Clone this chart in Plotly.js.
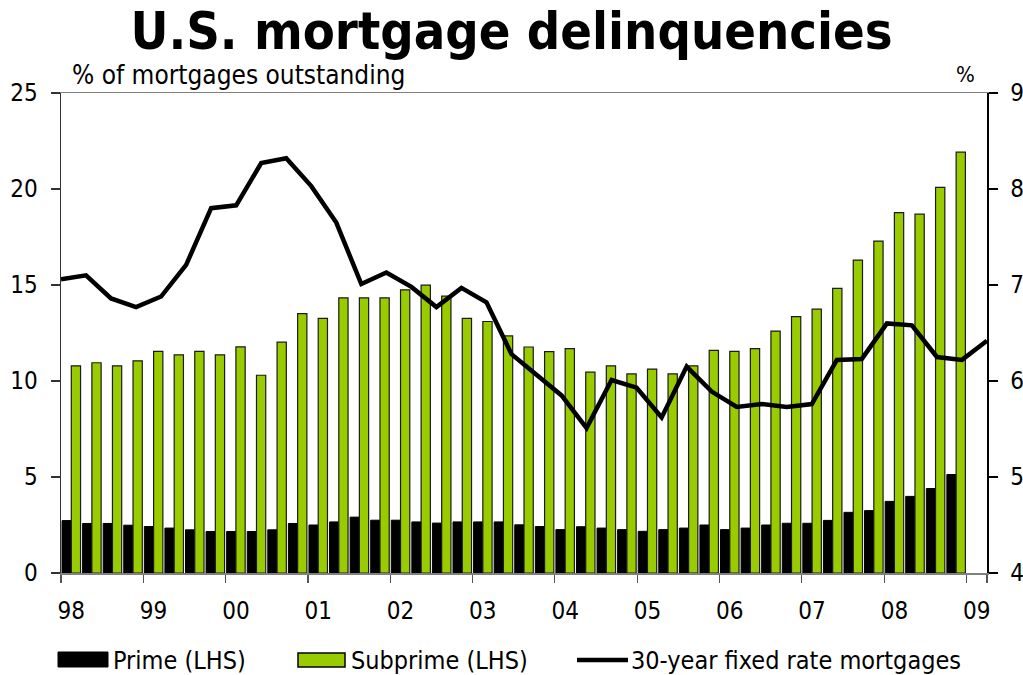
<!DOCTYPE html>
<html>
<head>
<meta charset="utf-8">
<script src="https://cdn.plot.ly/plotly-3.0.1.min.js"></script>
<style>
  html, body { margin: 0; padding: 0; background: #ffffff; }
  #chart { width: 1023px; height: 675px; }
</style>
</head>
<body>
<div id="chart"></div>
<script>
// ---------- DATA ----------
const quarters = [
  "1998Q1","1998Q2","1998Q3","1998Q4","1999Q1","1999Q2","1999Q3","1999Q4",
  "2000Q1","2000Q2","2000Q3","2000Q4","2001Q1","2001Q2","2001Q3","2001Q4",
  "2002Q1","2002Q2","2002Q3","2002Q4","2003Q1","2003Q2","2003Q3","2003Q4",
  "2004Q1","2004Q2","2004Q3","2004Q4","2005Q1","2005Q2","2005Q3","2005Q4",
  "2006Q1","2006Q2","2006Q3","2006Q4","2007Q1","2007Q2","2007Q3","2007Q4",
  "2008Q1","2008Q2","2008Q3","2008Q4","2009Q1"
];
const yearTickVals = ["1998Q1","1999Q1","2000Q1","2001Q1","2002Q1","2003Q1",
                      "2004Q1","2005Q1","2006Q1","2007Q1","2008Q1","2009Q1"];
const yearTickText = ["98","99","00","01","02","03","04","05","06","07","08","09"];

// Prime delinquency rate (% of mortgages outstanding, LHS)
const prime = [2.73, 2.58, 2.58, 2.49, 2.42, 2.34, 2.25, 2.16, 2.16, 2.16,
               2.25, 2.58, 2.50, 2.66, 2.91, 2.75, 2.75, 2.66, 2.60, 2.66,
               2.66, 2.66, 2.51, 2.42, 2.26, 2.41, 2.34, 2.26, 2.17, 2.26,
               2.34, 2.50, 2.26, 2.34, 2.50, 2.59, 2.59, 2.74, 3.16, 3.25,
               3.73, 3.99, 4.40, 5.13];
// Subprime delinquency rate (% of mortgages outstanding, LHS)
const subprime = [10.79, 10.95, 10.79, 11.05, 11.54, 11.36, 11.54, 11.36, 11.78, 10.30,
                  12.02, 13.51, 13.26, 14.33, 14.33, 14.33, 14.75, 14.99, 14.42, 13.26,
                  13.10, 12.35, 11.77, 11.53, 11.69, 10.46, 10.79, 10.37, 10.62, 10.37,
                  10.79, 11.60, 11.54, 11.69, 12.60, 13.35, 13.74, 14.82, 16.30, 17.29,
                  18.77, 18.69, 20.08, 21.92];
// 30-year fixed mortgage rate (%, RHS)
const rate = [7.06, 7.10, 6.86, 6.77, 6.88, 7.21, 7.80, 7.83, 8.27, 8.32,
              8.03, 7.65, 7.01, 7.13, 6.98, 6.77, 6.97, 6.82, 6.28, 6.07,
              5.85, 5.51, 6.01, 5.93, 5.62, 6.15, 5.89, 5.73, 5.76, 5.73,
              5.76, 6.22, 6.23, 6.60, 6.58, 6.25, 6.22, 6.42];

const seriesNames = ["Prime (LHS)", "Subprime (LHS)", "30-year fixed rate mortgages"];

// ---------- STYLE ----------
const BODY_FONT = "'DejaVu Sans Condensed', 'DejaVu Sans', sans-serif";
const TITLE_FONT = "'DejaVu Sans Condensed', 'Liberation Sans', sans-serif";
const GREEN = "#99cc00";

// plot area in pixels (for placing legend/labels outside the axes)
const W = 1023, H = 675;
const M = {l: 61, r: 36, t: 93, b: 102};
const plotW = W - M.l - M.r, plotH = H - M.t - M.b;
const px = x => (x - M.l) / plotW;
const py = y => (H - M.b - y) / plotH;

const barQuarters = quarters.slice(0, prime.length);
const rateIdx = rate.map((_, i) => i);

const traces = [
  {
    type: "bar", name: seriesNames[0], x: barQuarters, y: prime,
    xaxis: "x", yaxis: "y",
    marker: {color: "#000000", line: {color: "#000000", width: 1}},
    hoverinfo: "x+y"
  },
  {
    type: "bar", name: seriesNames[1], x: barQuarters, y: subprime,
    xaxis: "x", yaxis: "y",
    marker: {color: GREEN, line: {color: "#1a1a1a", width: 1.2}},
    hoverinfo: "x+y"
  },
  {
    type: "scatter", mode: "lines", name: seriesNames[2], x: rateIdx, y: rate,
    xaxis: "x2", yaxis: "y2",
    line: {color: "#000000", width: 4.5},
    hoverinfo: "y"
  }
];

const layout = {
  width: W, height: H,
  margin: {l: M.l, r: M.r, t: M.t, b: M.b, pad: 0},
  paper_bgcolor: "#ffffff", plot_bgcolor: "#ffffff",
  showlegend: false,
  barmode: "group", bargap: 0.1, bargroupgap: 0,
  font: {family: BODY_FONT, size: 24, color: "#000000"},
  title: {
    text: "<b>U.S. mortgage delinquencies</b>",
    font: {family: TITLE_FONT, size: 52, color: "#000000"},
    x: 0.5, xref: "container", xanchor: "center",
    y: 0.955, yref: "container", yanchor: "middle"
  },
  xaxis: {
    type: "category", categoryorder: "array", categoryarray: quarters,
    range: [-0.5, quarters.length - 0.5],
    tickmode: "array", tickvals: yearTickVals, ticktext: yearTickText,
    tickson: "boundaries", tickangle: 0,
    ticks: "outside", ticklen: 8, tickwidth: 1.2, tickcolor: "#555555",
    ticklabelstandoff: 16,
    showline: true, linecolor: "#808080", linewidth: 1.5, mirror: true,
    showgrid: false, zeroline: false, fixedrange: true,
    tickfont: {family: BODY_FONT, size: 24, color: "#000000"}
  },
  xaxis2: {
    overlaying: "x", range: [0, rate.length - 1], visible: false,
    fixedrange: true
  },
  yaxis: {
    range: [0, 25], tickmode: "linear", tick0: 0, dtick: 5,
    ticks: "outside", ticklen: 9, tickwidth: 1.2, tickcolor: "#333333",
    ticklabelstandoff: 8,
    showline: true, linecolor: "#333333", linewidth: 1.5,
    showgrid: false, zeroline: false, fixedrange: true,
    tickfont: {family: BODY_FONT, size: 24, color: "#000000"}
  },
  yaxis2: {
    overlaying: "y", side: "right", anchor: "x",
    range: [4, 9], tickmode: "linear", tick0: 4, dtick: 1,
    ticks: "outside", ticklen: 9, tickwidth: 1.2, tickcolor: "#000000",
    ticklabelstandoff: 8,
    showline: true, linecolor: "#000000", linewidth: 1.5,
    showgrid: false, zeroline: false, fixedrange: true,
    tickfont: {family: BODY_FONT, size: 24, color: "#000000"}
  },
  annotations: [
    {text: "% of mortgages outstanding", xref: "paper", yref: "paper",
     x: px(70), y: py(75), xanchor: "left", yanchor: "middle", showarrow: false,
     font: {family: BODY_FONT, size: 26, color: "#000000"}},
    {text: "%", xref: "paper", yref: "paper",
     x: px(977), y: py(75), xanchor: "right", yanchor: "middle", showarrow: false,
     font: {family: BODY_FONT, size: 22, color: "#000000"}},
    // legend labels
    {text: seriesNames[0], xref: "paper", yref: "paper",
     x: px(111), y: py(660), xanchor: "left", yanchor: "middle", showarrow: false,
     font: {family: BODY_FONT, size: 25, color: "#000000"}},
    {text: seriesNames[1], xref: "paper", yref: "paper",
     x: px(349), y: py(660), xanchor: "left", yanchor: "middle", showarrow: false,
     font: {family: BODY_FONT, size: 25, color: "#000000"}},
    {text: seriesNames[2], xref: "paper", yref: "paper",
     x: px(629), y: py(660), xanchor: "left", yanchor: "middle", showarrow: false,
     font: {family: BODY_FONT, size: 25, color: "#000000"}}
  ],
  shapes: [
    // legend swatches
    {type: "rect", xref: "paper", yref: "paper",
     x0: px(58), x1: px(108), y0: py(667), y1: py(652),
     fillcolor: "#000000", line: {color: "#000000", width: 1}},
    {type: "rect", xref: "paper", yref: "paper",
     x0: px(298), x1: px(345), y0: py(667), y1: py(653),
     fillcolor: GREEN, line: {color: "#000000", width: 1.5}},
    {type: "line", xref: "paper", yref: "paper",
     x0: px(577), x1: px(628), y0: py(660), y1: py(660),
     line: {color: "#000000", width: 4.5}}
  ]
};

Plotly.newPlot("chart", traces, layout, {displayModeBar: false, staticPlot: true});
</script>
</body>
</html>
